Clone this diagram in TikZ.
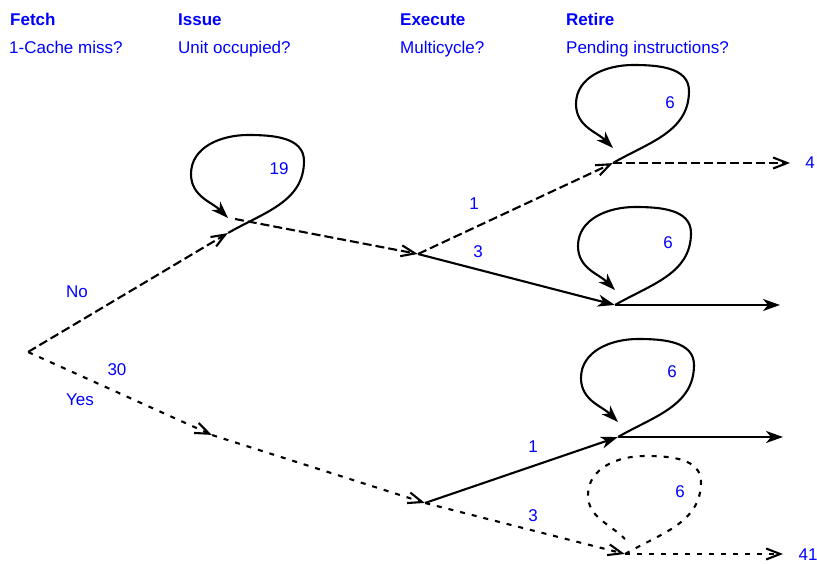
\documentclass[tikz,border=0pt]{standalone}
\usepackage{fontspec}
\setmainfont{Liberation Sans}
\usetikzlibrary{arrows.meta}
\tikzset{
    line/.style = { line width=2.1pt, },
    longdash/.style = { line, dash pattern=on 9pt off 4pt, },
    shortdash/.style = { line, dash pattern=on 5pt off 7pt, },
    open/.style = { -{Straight Barb[length=14pt,width=11pt]}, },
    filled/.style = { -{Stealth[length=17pt,width=12pt,inset=5pt]}, },
    state/.style = { inner sep=0, minimum size=0, },
    write/.style = { text=blue,font=\fontsize{17}{20}\selectfont,inner sep=0, },
    head/.style = { write,font=\fontsize{17}{20}\selectfont\bfseries,anchor=base west, },
    ask/.style = { write,anchor=base west, },
}
\newcommand{\selfloop}[2]{
    \draw [#2] (#1) to[out=30,in=-90] ++(76,72) to[out=90,in=0] ++(-56,26)
        to[out=180,in=90] ++(-57,-39) to[out=-90,in=135] ++(37,-44);
}

\begin{document}
\begin{tikzpicture}[x=1pt,y=1pt]

    \useasboundingbox (0,0) rectangle (817,563);

    \node [head] (fetch) at (10,537) {Fetch};
    \node [head] (issue) at (178,537) {Issue};
    \node [head] (exec) at (400,537) {Execute};
    \node [head] (retire) at (566,537) {Retire};
    \node [ask] (qfetch) at (9,509) {1-Cache miss?};
    \node [ask] (qissue) at (178,509) {Unit occupied?};
    \node [ask] (qexec) at (400,509) {Multicycle?};
    \node [ask] (qretire) at (566,509) {Pending instructions?};

    \node [state] (start) at (28,211) {};
    \node [state] (issNo) at (228,330) {};
    \coordinate (issNoTop) at (235,344);
    \node [state] (issYes) at (212,128) {};
    \node [state] (exeNo) at (418,309) {};
    \node [state] (exeYes) at (425,60) {};
    \node [state] (retA) at (613,400) {};
    \node [state] (retB) at (615,258) {};
    \node [state] (retC) at (618,126) {};
    \node [state] (retD) at (625,9) {};
    \coordinate (outA) at (790,400);
    \coordinate (outB) at (780,258);
    \coordinate (outC) at (783,126);
    \coordinate (outD) at (783,9);

    \draw [longdash,open] (start) -- (issNo);
    \draw [shortdash,open] (start) -- (issYes);
    \draw [longdash,open] (issNoTop) -- (exeNo);
    \draw [shortdash,open] (issYes) -- (exeYes);
    \draw [longdash,open] (exeNo) -- (retA);
    \draw [line,filled] (exeNo) -- (retB);
    \draw [line,filled] (exeYes) -- (retC);
    \draw [shortdash,open] (exeYes) -- (retD);
    \draw [longdash,open] (retA) -- (outA);
    \draw [line,filled] (retB) -- (outB);
    \draw [line,filled] (retC) -- (outC);
    \draw [shortdash,open] (retD) -- (outD);

    \selfloop{issNo}{line,filled}
    \selfloop{retA}{line,filled}
    \selfloop{retB}{line,filled}
    \selfloop{retC}{line,filled}
    \selfloop{retD}{shortdash}

    \node [write] (no) at (77,271) {No};
    \node [write] (yes) at (80,163) {Yes};
    \node [write] (nYes) at (117,193) {30};
    \node [write] (nIss) at (279,394) {19};
    \node [write] (nExeA) at (474,359) {1};
    \node [write] (nExeB) at (478,311) {3};
    \node [write] (nExeC) at (533,116) {1};
    \node [write] (nExeD) at (533,47) {3};
    \node [write] (nRetA) at (670,460) {6};
    \node [write] (nRetB) at (668,320) {6};
    \node [write] (nRetC) at (672,191) {6};
    \node [write] (nRetD) at (680,71) {6};
    \node [write] (nOutA) at (810,400) {4};
    \node [write] (nOutD) at (808,8) {41};

\end{tikzpicture}
\end{document}
